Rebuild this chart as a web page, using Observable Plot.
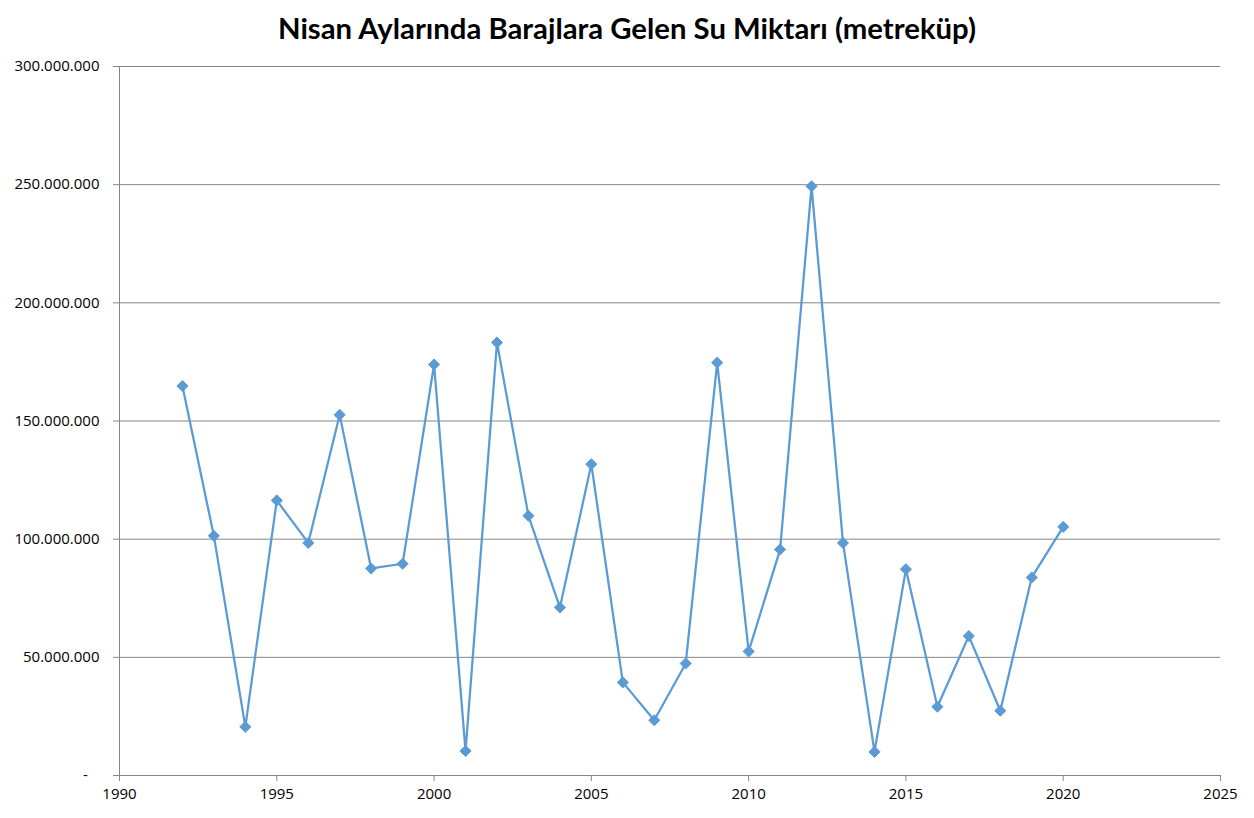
<!DOCTYPE html>
<html><head><meta charset="utf-8">
<script src="https://cdn.jsdelivr.net/npm/d3@7"></script>
<script src="https://cdn.jsdelivr.net/npm/@observablehq/plot@0.6"></script>
<style>
body{margin:0;background:#fff;}
#title{height:56px;line-height:56px;text-align:center;font-family:Lato,sans-serif;font-weight:bold;font-size:29.3px;color:#000;white-space:nowrap;}
#chart svg{display:block;}
</style>
</head><body>
<div id="title">Nisan Aylarında Barajlara Gelen Su Miktarı (metreküp)</div>
<div id="chart"></div>
<script>
const years = [1992,1993,1994,1995,1996,1997,1998,1999,2000,2001,2002,2003,2004,2005,2006,2007,2008,2009,2010,2011,2012,2013,2014,2015,2016,2017,2018,2019,2020];
const values = [164.8e6,101.4e6,20.6e6,116.4e6,98.4e6,152.6e6,87.6e6,89.6e6,173.9e6,10.4e6,183.2e6,109.9e6,71.1e6,131.7e6,39.4e6,23.4e6,47.4e6,174.7e6,52.5e6,95.6e6,249.3e6,98.4e6,10.0e6,87.3e6,29.1e6,59.0e6,27.4e6,83.8e6,105.2e6];
const yTicks = [0,50e6,100e6,150e6,200e6,250e6,300e6];
const xTicks = [1990,1995,2000,2005,2010,2015,2020,2025];

const data = years.map((year, i) => ({year, value: values[i]}));
const fmtY = d => d === 0 ? "-\u00a0\u00a0\u00a0" : d3.format(",")(d).replace(/,/g, ".");
const gridColor = "#868686";
const lineColor = "#5B9BD5";

const chart = Plot.plot({
  width: 1254,
  height: 762,
  marginTop: 10,
  marginLeft: 119,
  marginRight: 34,
  marginBottom: 43,
  style: {fontFamily: "'Open Sans', sans-serif", fontSize: "15px", color: "#000", background: "#fff"},
  x: {domain: [1990, 2025]},
  y: {domain: [0, 300e6]},
  marks: [
    Plot.gridY(yTicks, {stroke: gridColor, strokeOpacity: 1, strokeWidth: 1}),
    Plot.ruleX([1990], {stroke: gridColor, strokeWidth: 1}),
    Plot.axisY({ticks: yTicks, tickFormat: fmtY, tickSize: 6, tickPadding: 14, stroke: gridColor, fill: "#000", label: null}),
    Plot.axisX({ticks: xTicks, tickFormat: d => String(d), tickSize: 6, tickPadding: 7, stroke: gridColor, fill: "#000", label: null}),
    Plot.line(data, {x: "year", y: "value", stroke: lineColor, strokeWidth: 2.25}),
    Plot.dot(data, {x: "year", y: "value", symbol: "diamond2", r: 5, fill: lineColor, stroke: lineColor, strokeWidth: 1})
  ]
});
document.getElementById("chart").appendChild(chart);
</script>
</body></html>
